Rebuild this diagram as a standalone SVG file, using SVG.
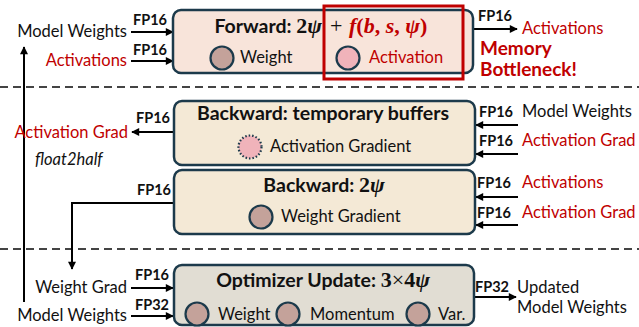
<svg xmlns="http://www.w3.org/2000/svg" width="639" height="327" viewBox="0 0 639 327">
  <defs>
    <marker id="arrow" viewBox="0 0 10 10" refX="9" refY="5" markerWidth="9" markerHeight="8" markerUnits="userSpaceOnUse" orient="auto">
      <path d="M0,0 L10,5 L0,10 z" fill="#000"/>
    </marker>
    <style>
      text { font-family: Lato, "Noto Sans", sans-serif; font-size: 16.5px; fill: #111; }
      .red { fill: #C00000; }
      .fp { font-weight: bold; font-size: 14.5px; }
      .title { font-weight: bold; font-size: 19.5px; }
      .alert { font-weight: bold; font-size: 19px; fill: #C00000; }
      .math { font-family: "Liberation Serif", "DejaVu Serif", serif; font-weight: bold; font-size: 22px; }
      .op { font-family: "Liberation Serif", "DejaVu Serif", serif; font-weight: normal; font-size: 22px; }
      .it { font-style: italic; }
      .box { stroke: #1C3A4B; stroke-width: 2.5; }
      .dot { stroke: #1C3A4B; stroke-width: 2.2; }
      .w { fill: #C4A29A; }
      .a { fill: #F0B3BA; }
      .link { stroke: #000; stroke-width: 2; fill: none; }
      .sep { stroke: #444; stroke-width: 2; stroke-dasharray: 8 5; }
    </style>
  </defs>

  <!-- phase separators -->
  <line class="sep" x1="0" y1="87" x2="639" y2="87"/>
  <line class="sep" x1="0" y1="249" x2="639" y2="249"/>

  <!-- connectors -->
  <g id="connectors">
    <!-- forward inputs / output -->
    <line class="link" x1="131" y1="32" x2="173" y2="32" marker-end="url(#arrow)"/>
    <line class="link" x1="131" y1="61" x2="173" y2="61" marker-end="url(#arrow)"/>
    <line class="link" x1="474" y1="29" x2="517" y2="29" marker-end="url(#arrow)"/>
    <!-- backward temporary buffers -->
    <line class="link" x1="174" y1="132" x2="132" y2="132" marker-end="url(#arrow)"/>
    <line class="link" x1="518" y1="125" x2="476" y2="125" marker-end="url(#arrow)"/>
    <line class="link" x1="518" y1="154" x2="476" y2="154" marker-end="url(#arrow)"/>
    <!-- backward weight gradient -->
    <polyline class="link" points="174,203 72,203 72,269" marker-end="url(#arrow)"/>
    <line class="link" x1="518" y1="197" x2="476" y2="197" marker-end="url(#arrow)"/>
    <line class="link" x1="518" y1="225" x2="476" y2="225" marker-end="url(#arrow)"/>
    <!-- float2half: fp32 master weights back to fp16 -->
    <line class="link" x1="24" y1="302" x2="24" y2="47" marker-end="url(#arrow)"/>
    <!-- optimizer -->
    <line class="link" x1="131" y1="288" x2="173" y2="288" marker-end="url(#arrow)"/>
    <line class="link" x1="131" y1="316" x2="173" y2="316" marker-end="url(#arrow)"/>
    <line class="link" x1="474" y1="297" x2="516" y2="297" marker-end="url(#arrow)"/>
  </g>

  <!-- edge labels -->
  <g id="labels">
    <text x="127" y="37" text-anchor="end">Model Weights</text>
    <text class="fp" x="133" y="25">FP16</text>
    <text class="red" x="127" y="66" text-anchor="end">Activations</text>
    <text class="fp" x="133" y="55">FP16</text>
    <text class="fp" x="478" y="21">FP16</text>
    <text class="red" x="522" y="34">Activations</text>
    <text class="alert" x="480" y="55">Memory</text>
    <text class="alert" x="480" y="76">Bottleneck!</text>

    <text class="fp" x="136" y="123">FP16</text>
    <text class="red" x="128" y="138" text-anchor="end">Activation Grad</text>
    <text class="it" x="35" y="165">float2half</text>
    <text class="fp" x="479" y="117">FP16</text>
    <text x="522" y="117">Model Weights</text>
    <text class="fp" x="479" y="146">FP16</text>
    <text class="red" x="522" y="146">Activation Grad</text>

    <text class="fp" x="137" y="195">FP16</text>
    <text class="fp" x="477" y="188">FP16</text>
    <text class="red" x="522" y="188">Activations</text>
    <text class="fp" x="477" y="218">FP16</text>
    <text class="red" x="522" y="218">Activation Grad</text>

    <text class="fp" x="135" y="280">FP16</text>
    <text x="127" y="293" text-anchor="end">Weight Grad</text>
    <text class="fp" x="135" y="310">FP32</text>
    <text x="127" y="321" text-anchor="end">Model Weights</text>
    <text class="fp" x="475" y="292">FP32</text>
    <text x="517" y="293">Updated</text>
    <text x="517" y="313">Model Weights</text>
  </g>

  <!-- forward pass -->
  <g id="forward">
    <rect class="box" x="173" y="10" width="300" height="63" rx="8" fill="#F8E4DA"/>
    <text x="322" y="33" text-anchor="end"><tspan class="title">Forward: </tspan><tspan class="math">2<tspan class="it">ψ</tspan></tspan></text>
    <text class="op" x="330" y="33">+</text>
    <text class="math red" x="349" y="33"><tspan class="it">f</tspan>(<tspan class="it">b</tspan>, <tspan class="it">s</tspan>, <tspan class="it">ψ</tspan>)</text>
    <circle class="dot w" cx="222" cy="58" r="11.5"/>
    <text x="240" y="63">Weight</text>
    <circle class="dot a" cx="348" cy="58" r="11.5"/>
    <text class="red" x="369" y="63">Activation</text>
  </g>
  <!-- activation memory highlight -->
  <rect id="bottleneck" x="324" y="6" width="139" height="73" fill="none" stroke="#C00000" stroke-width="3"/>

  <!-- backward: temporary buffers -->
  <g id="backward-temp">
    <rect class="box" x="174" y="101" width="301" height="64" rx="8" fill="#F4E9D6"/>
    <text class="title" x="323" y="120" text-anchor="middle">Backward: temporary buffers</text>
    <circle class="dot a" cx="250" cy="147" r="11.5" style="stroke-dasharray:1.5 2"/>
    <text x="270" y="152">Activation Gradient</text>
  </g>

  <!-- backward: weight gradient -->
  <g id="backward">
    <rect class="box" x="174" y="170" width="301" height="64" rx="8" fill="#F4E9D6"/>
    <text x="324" y="192" text-anchor="middle"><tspan class="title">Backward: </tspan><tspan class="math">2<tspan class="it">ψ</tspan></tspan></text>
    <circle class="dot w" cx="261" cy="217" r="11.5"/>
    <text x="281" y="222">Weight Gradient</text>
  </g>

  <!-- optimizer update -->
  <g id="optimizer">
    <rect class="box" x="174" y="265" width="300" height="60" rx="8" fill="#E1DDD3"/>
    <text x="323" y="287" text-anchor="middle"><tspan class="title">Optimizer Update: </tspan><tspan class="math">3<tspan style="font-weight:normal">×</tspan>4<tspan class="it">ψ</tspan></tspan></text>
    <circle class="dot w" cx="197" cy="314" r="11.5"/>
    <text x="218" y="320">Weight</text>
    <circle class="dot w" cx="288" cy="314" r="11.5"/>
    <text x="310" y="320">Momentum</text>
    <circle class="dot w" cx="418" cy="314" r="11.5"/>
    <text x="438" y="320">Var.</text>
  </g>
</svg>
